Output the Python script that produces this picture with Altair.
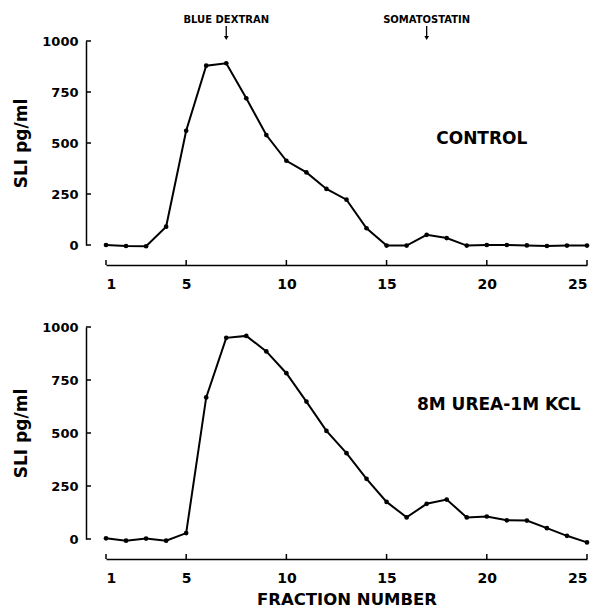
import altair as alt
import pandas as pd

# ---------------- data ----------------
fractions = list(range(1, 26))
control_sli = [0, -5, -6, 90, 560, 879, 891, 719, 539, 413, 356, 275, 222, 82,
               -3, -3, 50, 34, -3, 0, 0, -2, -5, -3, -3]
urea_sli = [3, -8, 2, -8, 28, 668, 949, 958, 885, 782, 648, 510, 405, 284,
            175, 102, 166, 186, 102, 106, 88, 87, 51, 15, -16]

x_ticks = [1, 5, 10, 15, 20, 25]
y_ticks = [0, 250, 500, 750, 1000]

marker_fractions = [7, 17]
marker_labels = ["BLUE DEXTRAN", "SOMATOSTATIN"]

panel_labels = ["CONTROL", "8M UREA-1M KCL"]
panel_label_x = [19.75, 20.6]
panel_label_y = [520, 632]

FONT = "DejaVu Sans"


def panel(values, height, label, lx, ly, show_xtitle, show_markers):
    df = pd.DataFrame({"fraction": fractions, "sli": values})

    xaxis_kw = dict(values=x_ticks, offset=20, ticks=False, grid=False,
                    labelPadding=12, domainColor="black", domainWidth=1.5,
                    labelFont=FONT, labelFontSize=14, labelFontWeight="bold",
                    labelColor="black", format="d")
    if show_xtitle:
        xaxis_kw.update(title="FRACTION NUMBER", titleFont=FONT, titleFontSize=16.5,
                        titleFontWeight="bold", titleColor="black", titlePadding=6)
    else:
        xaxis_kw.update(title="")

    xs = alt.Scale(domain=[1, 25], nice=False, zero=False)
    ys = alt.Scale(domain=[0, 1000], nice=False)

    x = alt.X("fraction:Q", scale=xs, axis=alt.Axis(**xaxis_kw))
    y = alt.Y("sli:Q", scale=ys,
              axis=alt.Axis(values=y_ticks, offset=20, ticks=False, grid=False,
                            labelPadding=8, domainColor="black", domainWidth=1.5,
                            labelFont=FONT, labelFontSize=13, labelFontWeight="bold",
                            labelColor="black", format="d", title="SLI pg/ml",
                            titleFont=FONT, titleFontSize=17, titleFontWeight="bold",
                            titleColor="black", titlePadding=11))

    line = alt.Chart(df).mark_line(color="black", strokeWidth=2).encode(x=x, y=y)
    pts = alt.Chart(df).mark_circle(color="black", opacity=1, size=22).encode(
        x="fraction:Q", y="sli:Q")

    ytick_df = pd.DataFrame({"sli": y_ticks})
    yt = alt.Chart(ytick_df).mark_rule(color="black", strokeWidth=1.5).encode(
        y="sli:Q", x=alt.value(-20), x2=alt.value(-15))

    xtick_df = pd.DataFrame({"fraction": x_ticks})
    xt = alt.Chart(xtick_df).mark_rule(color="black", strokeWidth=1.5).encode(
        x="fraction:Q", y=alt.value(height + 20), y2=alt.value(height + 15))

    lab_df = pd.DataFrame({"fraction": [lx], "sli": [ly], "t": [label]})
    lab = alt.Chart(lab_df).mark_text(font=FONT, fontSize=17, fontWeight="bold",
                                      color="black", align="center",
                                      baseline="middle").encode(
        x="fraction:Q", y="sli:Q", text="t:N")

    layers = [line, pts, yt, xt, lab]

    if show_markers:
        m_df = pd.DataFrame({"fraction": marker_fractions, "t": marker_labels})
        mt = alt.Chart(m_df).mark_text(font=FONT, fontSize=10, fontWeight="bold",
                                       color="black", align="center",
                                       baseline="middle").encode(
            x="fraction:Q", y=alt.value(-21), text="t:N")
        shaft = alt.Chart(m_df).mark_rule(color="black", strokeWidth=1.3).encode(
            x="fraction:Q", y=alt.value(-15), y2=alt.value(-4))
        head = alt.Chart(m_df).mark_point(shape="triangle-down", filled=True,
                                          color="black", opacity=1, size=22).encode(
            x="fraction:Q", y=alt.value(-3))
        layers += [mt, shaft, head]

    return alt.layer(*layers).properties(width=481, height=height)


top = panel(control_sli, 204, panel_labels[0], panel_label_x[0], panel_label_y[0],
            False, True)
bottom = panel(urea_sli, 212, panel_labels[1], panel_label_x[1], panel_label_y[1],
               True, False)

chart = alt.vconcat(top, bottom, spacing=30).configure_view(stroke=None).properties(
    padding={"top": 7, "left": 4, "right": 0, "bottom": 0},
    background="white")

chart.save("out.html", embed_options={"renderer": "svg", "actions": False})
